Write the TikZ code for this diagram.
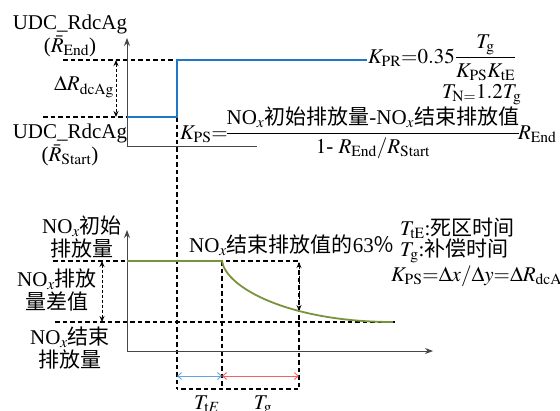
\documentclass[tikz,border=0pt]{standalone}
\usepackage{mathptmx}
\usepackage{fontspec}
\setmainfont{Liberation Serif}
\newfontfamily\cjk{Noto Sans CJK SC}
\newcommand{\zh}[1]{{\cjk #1}}
\usetikzlibrary{arrows.meta}
\definecolor{stepblue}{RGB}{31,119,200}
\definecolor{curvegreen}{RGB}{119,147,60}
\definecolor{tlblue}{RGB}{100,165,220}
\definecolor{tgred}{RGB}{240,100,100}
\definecolor{axisgray}{RGB}{70,70,70}
\begin{document}
\begin{tikzpicture}[x = 1pt, y = -1pt, font = \fontsize{21}{23}\selectfont,
	axis/.style = {axisgray, line width = 0.8pt},
	guide/.style = {black, dash pattern = on 4.5pt off 3pt, line width = 1.3pt},
	span/.style = {black, densely dashed, line width = 0.9pt, {Stealth[length = 6pt, width = 5pt]}-{Stealth[length = 6pt, width = 5pt]}},
	timespan/.style = {line width = 0.9pt, {Straight Barb[length = 4pt, width = 7pt]}-{Straight Barb[length = 4pt, width = 7pt]}},
	lbl/.style = {inner sep = 0pt, align = center},
	note/.style = {inner sep = 0pt, anchor = base west}]
	\useasboundingbox (0,0) rectangle (560,410);
	% upper plot
	\coordinate (o1) at (127,146);
	\coordinate (r0) at (127,117);
	\coordinate (r1) at (177,117);
	\coordinate (r2) at (177,60);
	\coordinate (r3) at (367,60);
	\draw [guide] (63,60) -- (r2);
	\draw [guide] (43,117) -- (r0);
	\draw [span] (116,60) -- (116,117);
	\draw [guide] (r1) -- (177,389);
	\draw [axis, -{Stealth[length = 8pt, width = 6pt]}] (o1) -- (127,38);
	\draw [axis] (o1) -- (257,146);
	\draw [stepblue, line width = 2pt] (r0) -- (r1) -- (r2) -- (r3);
	\node [lbl] (rend) at (70,36) {UDC\_RdcAg\\($\bar{R}_{\mathrm{End}}$)};
	\node [lbl] (rstart) at (70,145) {UDC\_RdcAg\\($\bar{R}_{\mathrm{Start}}$)};
	\node [lbl] (dr) at (84,87) {$\Delta R_{\mathrm{dcAg}}$};
	\node [note] (kpr) at (368,63) {$\displaystyle K_{\mathrm{PR}}{=}0.35\frac{T_{\mathrm{g}}}{K_{\mathrm{PS}}K_{\mathrm{tE}}}$};
	\node [note] (tn) at (442,98) {$T_{\mathrm{N=}}1.2T_{\mathrm{g}}$};
	\node [note] (kps) at (180,139) {$\displaystyle K_{\mathrm{PS}}{=}\!\frac{\mbox{NO$_x$\zh{初始排放量}-NO$_x$\zh{结束排放值}}}{1\mbox{- }R_{\mathrm{End}}/R_{\mathrm{Start}}}\!R_{\mathrm{End}}$};
	% lower plot
	\coordinate (o2) at (127,351);
	\coordinate (n0) at (127,261);
	\coordinate (n1) at (222,261);
	\coordinate (n2) at (393,322);
	\coordinate (g63) at (299,311);
	\draw [guide] (53,261) -- (299,261) -- (299,389) -- (177,389);
	\draw [guide] (55,322) -- (395,322);
	\draw [guide] (n1) -- (222,389);
	\draw [span] (102,261) -- (102,322);
	\draw [span] (299,262) -- (g63);
	\draw [axis, -{Stealth[length = 8pt, width = 6pt]}] (o2) -- (127,230);
	\draw [axis, -{Stealth[length = 8pt, width = 6pt]}] (o2) -- (433,351);
	\draw [curvegreen, line width = 1.8pt] (n0) -- (n1) .. controls (226,288) and (290,322) .. (n2);
	\draw [tlblue, timespan] (177,376) -- (222,376);
	\draw [tgred, timespan] (222,376) -- (299,376);
	\node [lbl] (noxa) at (82,237) {NO$_x$\zh{初始}\\\zh{排放量}};
	\node [lbl] (noxd) at (57,290) {NO$_x$\zh{排放}\\\zh{量差值}};
	\node [lbl] (noxe) at (70,348) {NO$_x$\zh{结束}\\\zh{排放量}};
	\node [lbl] (pct) at (292,245) {NO$_x$\zh{结束排放值的}63\zh{％}};
	\node [note] (dead) at (400,235) {$T_{\mathrm{tE}}$:\zh{死区时间}};
	\node [note] (comp) at (400,256) {$T_{\mathrm{g}}$:\zh{补偿时间}};
	\node [note] (gain) at (391,281) {$K_{\mathrm{PS}}{=}\Delta x/\Delta y{=}\Delta R_{\mathrm{dcAg}}$};
	\node [note, anchor = base] (tte) at (207,409) {$T_{\mathrm{t}E}$};
	\node [note, anchor = base] (tg) at (263,409) {$T_{\mathrm{g}}$};
\end{tikzpicture}
\end{document}
